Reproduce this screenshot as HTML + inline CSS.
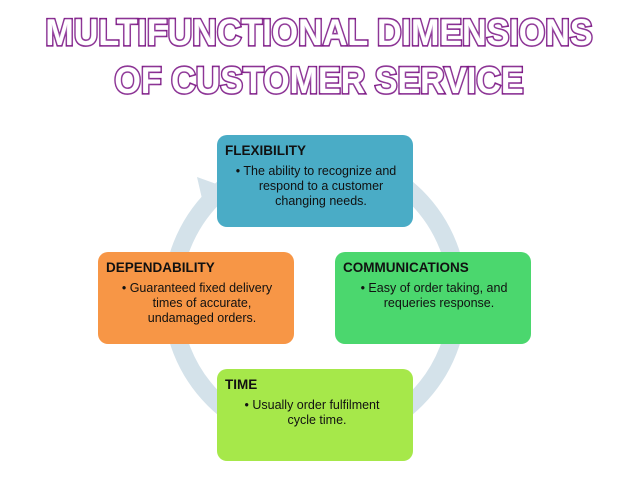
<!DOCTYPE html>
<html><head><style>
body{margin:0;width:638px;height:479px;background:#fff;overflow:hidden;position:relative;font-family:"Liberation Sans",sans-serif}
.t{position:absolute;left:0;width:638px;text-align:center;font-weight:bold;color:#fff;-webkit-text-stroke:3.2px #78107f;paint-order:stroke fill;font-size:37px;letter-spacing:0px;text-shadow:0 0 3px #c9a0d6}
.b{position:absolute;width:196px;height:92px;border-radius:10px;color:#111;font-size:12.5px}
.b h{display:block;font-weight:bold;font-size:13.5px;margin:8px 0 0 8px}
.b p{margin:6px 14px 0 26px;text-align:center;line-height:15px;text-indent:-10px}
</style></head><body>
<div class="t" style="top:12px;transform:scaleX(0.92)">MULTIFUNCTIONAL DIMENSIONS</div>
<div class="t" style="top:60px;transform:scaleX(0.92)">OF CUSTOMER SERVICE</div>
<svg width="638" height="479" style="position:absolute;left:0;top:0">
<circle cx="315" cy="298" r="143" fill="none" stroke="#d4e2ea" stroke-width="18"/>
<polygon points="197,177 222,186 203,203" fill="#d4e2ea"/>
</svg>
<div class="b" style="left:217px;top:135px;background:#4aacc6"><h>FLEXIBILITY</h><p>• The ability to recognize and respond to a customer changing needs.</p></div>
<div class="b" style="left:98px;top:252px;background:#f79646"><h>DEPENDABILITY</h><p>• Guaranteed fixed delivery times of accurate, undamaged orders.</p></div>
<div class="b" style="left:335px;top:252px;background:#4bd76e"><h>COMMUNICATIONS</h><p>• Easy of order taking, and requeries response.</p></div>
<div class="b" style="left:217px;top:369px;background:#a6e84a"><h>TIME</h><p style="margin-right:22px">• Usually order fulfilment cycle time.</p></div>
</body></html>
